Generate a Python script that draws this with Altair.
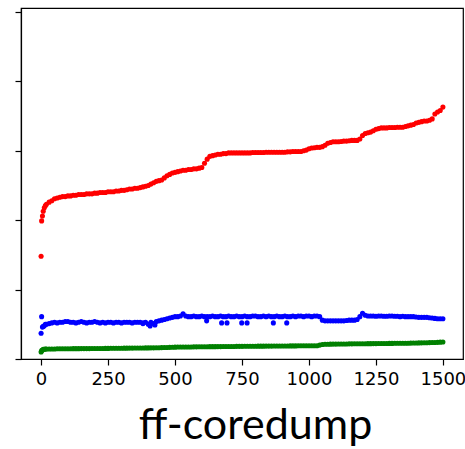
import altair as alt
import pandas as pd

# index grid (sorted sample index)
X = [0, 2, 5, 8, 12, 16, 20] + list(range(30, 1501, 10))

red = [1.48, 1.99, 2.06, 2.13, 2.18, 2.21, 2.23,
       2.26, 2.28, 2.31, 2.32, 2.33, 2.34, 2.34, 2.35, 2.35, 2.36,
       2.36, 2.37, 2.37, 2.37, 2.38, 2.38, 2.38, 2.39, 2.39, 2.40,
       2.40, 2.40, 2.41, 2.41, 2.41, 2.42, 2.42, 2.43, 2.43, 2.44,
       2.45, 2.45, 2.46, 2.46, 2.47, 2.48, 2.49, 2.50, 2.52, 2.54,
       2.56, 2.57, 2.58, 2.61, 2.64, 2.66, 2.68, 2.69, 2.70, 2.71,
       2.72, 2.72, 2.73, 2.73, 2.74, 2.74, 2.75, 2.76, 2.82, 2.88,
       2.92, 2.93, 2.94, 2.95, 2.95, 2.96, 2.96, 2.97, 2.97, 2.97,
       2.97, 2.97, 2.97, 2.97, 2.97, 2.97, 2.975, 2.975, 2.975, 2.975,
       2.975, 2.98, 2.98, 2.98, 2.98, 2.98, 2.98, 2.98, 2.98, 2.985,
       2.985, 2.99, 2.99, 2.99, 2.99, 3.00, 3.01, 3.03, 3.04, 3.045,
       3.05, 3.05, 3.06, 3.08, 3.11, 3.12, 3.13, 3.13, 3.13, 3.135,
       3.14, 3.14, 3.145, 3.15, 3.15, 3.15, 3.17, 3.22, 3.25, 3.26,
       3.27, 3.29, 3.31, 3.32, 3.33, 3.33, 3.33, 3.335, 3.335, 3.335,
       3.34, 3.34, 3.34, 3.35, 3.36, 3.37, 3.38, 3.40, 3.41, 3.42,
       3.43, 3.43, 3.44, 3.46, 3.53, 3.56, 3.58, 3.63]

blue = [0.37, 0.61, 0.46, 0.47, 0.48, 0.50, 0.50,
        0.51, 0.52, 0.53, 0.52, 0.53, 0.53, 0.54, 0.54, 0.53, 0.53,
        0.52, 0.53, 0.54, 0.53, 0.52, 0.53, 0.53, 0.54, 0.53, 0.52,
        0.53, 0.52, 0.53, 0.53, 0.52, 0.53, 0.53, 0.52, 0.53, 0.53,
        0.53, 0.52, 0.53, 0.53, 0.53, 0.51, 0.53, 0.50, 0.53, 0.51,
        0.54, 0.55, 0.56, 0.57, 0.58, 0.59, 0.60, 0.61, 0.61, 0.62,
        0.65, 0.62, 0.61, 0.61, 0.62, 0.61, 0.61, 0.62, 0.61, 0.61,
        0.61, 0.62, 0.61, 0.61, 0.62, 0.61, 0.61, 0.62, 0.61, 0.61,
        0.62, 0.61, 0.61, 0.62, 0.61, 0.61, 0.62, 0.62, 0.61, 0.61,
        0.62, 0.61, 0.62, 0.61, 0.61, 0.62, 0.61, 0.61, 0.62, 0.61,
        0.61, 0.62, 0.61, 0.62, 0.62, 0.61, 0.62, 0.62, 0.61, 0.62,
        0.62, 0.61, 0.56, 0.55, 0.55, 0.55, 0.55, 0.55, 0.55, 0.55,
        0.55, 0.555, 0.56, 0.56, 0.56, 0.57, 0.61, 0.66, 0.63, 0.62,
        0.62, 0.62, 0.615, 0.62, 0.62, 0.615, 0.615, 0.62, 0.62, 0.615,
        0.615, 0.61, 0.615, 0.61, 0.61, 0.61, 0.61, 0.605, 0.60, 0.60,
        0.60, 0.60, 0.595, 0.59, 0.585, 0.58, 0.58, 0.58]

green = [0.10, 0.12, 0.13, 0.14, 0.14, 0.145, 0.145,
         0.145, 0.145, 0.145, 0.147, 0.147, 0.147, 0.148, 0.148, 0.148, 0.149,
         0.149, 0.149, 0.15, 0.15, 0.15, 0.15, 0.151, 0.151, 0.152, 0.152,
         0.152, 0.153, 0.153, 0.154, 0.154, 0.155, 0.155, 0.155, 0.156, 0.156,
         0.157, 0.157, 0.158, 0.158, 0.159, 0.159, 0.16, 0.16, 0.161, 0.161,
         0.162, 0.163, 0.164, 0.165, 0.166, 0.168, 0.17, 0.171, 0.172, 0.172,
         0.173, 0.173, 0.174, 0.174, 0.175, 0.175, 0.176, 0.176, 0.177, 0.177,
         0.178, 0.178, 0.178, 0.179, 0.179, 0.18, 0.18, 0.18, 0.181, 0.181,
         0.182, 0.182, 0.182, 0.183, 0.183, 0.184, 0.184, 0.184, 0.185, 0.185,
         0.185, 0.186, 0.186, 0.186, 0.187, 0.187, 0.187, 0.188, 0.188, 0.188,
         0.189, 0.189, 0.189, 0.19, 0.19, 0.19, 0.19, 0.191, 0.191, 0.192,
         0.192, 0.20, 0.21, 0.212, 0.213, 0.214, 0.215, 0.215, 0.216, 0.216,
         0.217, 0.217, 0.218, 0.218, 0.219, 0.219, 0.22, 0.22, 0.22, 0.221,
         0.221, 0.222, 0.222, 0.223, 0.223, 0.224, 0.224, 0.225, 0.225, 0.226,
         0.226, 0.227, 0.227, 0.228, 0.228, 0.229, 0.23, 0.231, 0.232, 0.233,
         0.234, 0.235, 0.236, 0.237, 0.238, 0.24, 0.243, 0.245]

# isolated low blue points
blue_out_x = [381, 407, 425, 618, 674, 694, 749, 769, 867, 917]
blue_out_y = [0.52, 0.475, 0.49, 0.55, 0.52, 0.52, 0.52, 0.52, 0.52, 0.52]

series_names = ["red", "blue", "green"]
series_colors = ["#ff0000", "#0000ff", "#008000"]
x_ticks = [0, 250, 500, 750, 1000, 1250, 1500]
y_ticks = [0, 1, 2, 3, 4, 5]
title_text = "ff-coredump"

rows = []
for name, vals in zip(series_names, [red, blue, green]):
    for xv, yv in zip(X, vals):
        rows.append({"x": xv, "y": yv, "s": name})
for xv, yv in zip(blue_out_x, blue_out_y):
    rows.append({"x": xv, "y": yv, "s": "blue"})
df = pd.DataFrame(rows)

chart = alt.Chart(df).mark_circle(size=26, opacity=1).encode(
    x=alt.X("x:Q",
            scale=alt.Scale(domain=[-75, 1575], nice=False, zero=False),
            axis=alt.Axis(values=x_ticks, grid=False, title=title_text, format="d",
                          labelFont="DejaVu Sans", labelFontSize=18, labelColor="black",
                          labelPadding=5, tickSize=6, tickColor="black", tickWidth=1.2,
                          domainColor="black", domainWidth=1.2, labelFlush=False,
                          titleFont="Lato", titleFontSize=43, titleFontWeight="normal",
                          titleColor="black", titleX=234, titleY=79,
                          titleAlign="center", titleBaseline="alphabetic")),
    y=alt.Y("y:Q",
            scale=alt.Scale(domain=[0, 5.058], nice=False),
            axis=alt.Axis(values=y_ticks, grid=False, labels=False, title=None,
                          tickSize=6, tickColor="black", tickWidth=1.2,
                          domainColor="black", domainWidth=1.2)),
    color=alt.Color("s:N", scale=alt.Scale(domain=series_names, range=series_colors),
                    legend=None),
).properties(
    width=442, height=351,
    autosize=alt.AutoSizeParams(type="none"),
    padding={"left": 21, "top": 8, "right": 2, "bottom": 90},
).configure_view(stroke="black", strokeWidth=1.2)

chart.save("out.html", embed_options={"renderer": "svg", "actions": False})
